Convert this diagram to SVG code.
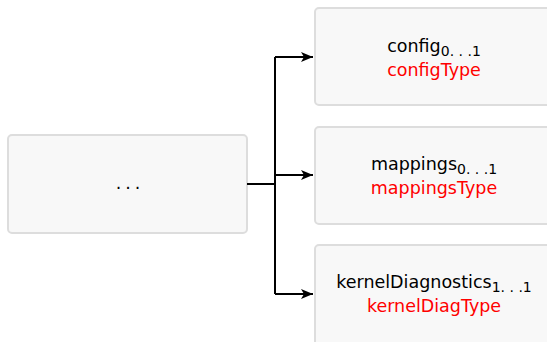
<svg xmlns="http://www.w3.org/2000/svg" width="547" height="342" viewBox="0 0 547 342">
  <defs>
    <marker id="arrow" viewBox="0 0 12 10" refX="12" refY="5" markerWidth="12" markerHeight="10" markerUnits="userSpaceOnUse" orient="auto">
      <path d="M0,0 L12,5 L0,10 L3,5 Z" fill="#000"/>
    </marker>
  </defs>
  <style>
    .box { fill: #f8f8f8; stroke: #dddddd; stroke-width: 2; }
    .name { font-family: "DejaVu Sans", sans-serif; font-size: 17.5px; fill: #000; text-anchor: middle; }
    .type { font-family: "DejaVu Sans", sans-serif; font-size: 17.5px; fill: #ff0000; text-anchor: middle; }
    .sub { font-size: 14px; }
    .dots { letter-spacing: 4px; }
    .wire { fill: none; stroke: #000; stroke-width: 2; }
  </style>

  <g id="parent">
    <rect class="box" x="8" y="135" width="239" height="98" rx="4"/>
    <text class="name dots" x="130" y="189">...</text>
  </g>

  <g id="node-config">
    <rect class="box" x="315" y="8" width="250" height="97" rx="4"/>
    <text class="name" x="434" y="52">config<tspan class="sub" dy="4">0. . .1</tspan></text>
    <text class="type" x="434" y="76">configType</text>
  </g>

  <g id="node-mappings">
    <rect class="box" x="315" y="127" width="250" height="97" rx="4"/>
    <text class="name" x="434" y="170">mappings<tspan class="sub" dy="4">0. . .1</tspan></text>
    <text class="type" x="434" y="194">mappingsType</text>
  </g>

  <g id="node-kernelDiagnostics">
    <rect class="box" x="315" y="245" width="250" height="110" rx="4"/>
    <text class="name" x="434" y="288">kernelDiagnostics<tspan class="sub" dy="4">1. . .1</tspan></text>
    <text class="type" x="434" y="312">kernelDiagType</text>
  </g>

  <g id="connectors">
    <path class="wire" d="M247,184 H275"/>
    <path class="wire" d="M275,57 V294"/>
    <path class="wire" d="M275,57 H313" marker-end="url(#arrow)"/>
    <path class="wire" d="M275,175 H313" marker-end="url(#arrow)"/>
    <path class="wire" d="M275,294 H313" marker-end="url(#arrow)"/>
  </g>
</svg>
